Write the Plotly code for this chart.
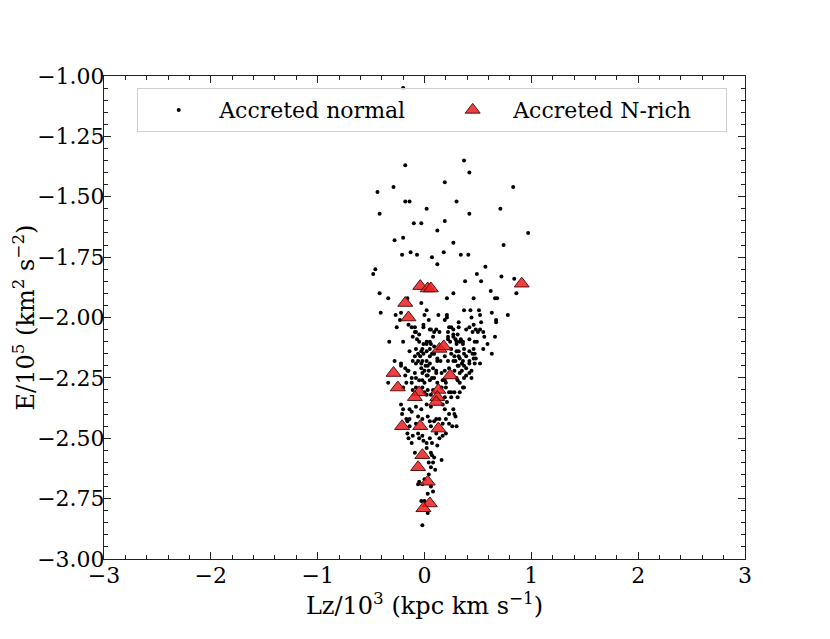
import plotly.graph_objects as go

# accreted normal stars: Lz/1e3 and E/1e5
normal_lz = [
    -0.20, -0.18, 0.37, 0.42, -0.29, -0.44, 0.19, 0.83, -0.18, -0.14, 0.30, 0.02,
    -0.42, 0.42, 0.71, 0.19, -0.10, -0.03, 0.12, 0.97, -0.28, -0.20, 0.27, 0.74,
    -0.13, -0.21, -0.07, 0.18, 0.34, 0.41, 0.07, 0.12, -0.46, -0.48, 0.57, 0.49,
    0.38, 0.53, 0.72, 0.84, 0.86, 0.62, 0.66, 0.68, 0.46, 0.27, 0.21, -0.03,
    -0.16, -0.42, -0.34, -0.41, -0.27, -0.22, -0.23, -0.26, 0.00, 0.02, 0.04, 0.13,
    0.21, 0.21, 0.19, 0.37, 0.43, 0.51, 0.52, 0.44, 0.63, 0.67, 0.67, 0.78,
    0.53, 0.42, 0.46, 0.48, 0.52, 0.45, 0.50, 0.55, 0.56, 0.66, 0.32, 0.32,
    0.23, 0.25, 0.22, 0.27, 0.29, -0.01, -0.09, -0.08, 0.06, 0.08, -0.05, 0.14,
    -0.15, -0.33, -0.20, -0.11, -0.05, -0.01, 0.05, 0.33, 0.30, 0.42, 0.49,
    0.02, 0.09, 0.24, 0.36, 0.59, -0.14, -0.08, -0.03, -0.01, -0.04, 0.05, 0.07,
    0.25, 0.30, 0.32, 0.33, 0.37, 0.42, 0.47, 0.48, 0.55, 0.63, -0.28, -0.22,
    -0.11, -0.08, -0.02, 0.01, 0.05, 0.12, 0.22, 0.29, 0.32, 0.35, 0.39, 0.42,
    0.47, 0.52, -0.18, -0.15, -0.09, -0.03, -0.02, 0.04, 0.08, 0.11, 0.19, 0.23,
    0.28, 0.33, 0.35, 0.42, -0.34, -0.18, -0.17, -0.12, -0.12, -0.05, 0.00, 0.02,
    0.07, 0.17, 0.20, 0.31, 0.37, -0.20, -0.11, -0.08, -0.02, 0.03, 0.02, 0.06,
    0.25, 0.31, 0.33, 0.36, 0.19, 0.21, -0.22, -0.20, -0.21, -0.14, -0.12, -0.08,
    -0.03, 0.02, 0.06, 0.17, 0.19, 0.23, 0.27, 0.28, -0.17, -0.14, -0.06, -0.02,
    0.03, 0.05, 0.11, 0.14, 0.17, 0.20, 0.23, 0.29, 0.30, 0.06, -0.16, -0.14,
    -0.08, 0.26, 0.09, -0.16, -0.11, -0.15, -0.06, -0.05, -0.02, -0.01, 0.02, 0.02,
    0.05, 0.07, 0.11, 0.14, 0.17, 0.20, -0.12, -0.09, 0.06, 0.07, 0.09, 0.12,
    0.16, 0.04, 0.08, 0.06, 0.10, 0.04, 0.00, -0.05, -0.06, -0.02, 0.06, 0.08,
    0.03, -0.03, 0.00, 0.03, -0.02,
]
normal_e = [
    -1.05, -1.37, -1.35, -1.40, -1.46, -1.48, -1.44, -1.46, -1.52, -1.52, -1.52, -1.55,
    -1.57, -1.57, -1.55, -1.60, -1.61, -1.61, -1.64, -1.65, -1.68, -1.67, -1.69, -1.70,
    -1.73, -1.74, -1.74, -1.73, -1.74, -1.74, -1.75, -1.78, -1.80, -1.82, -1.79, -1.82,
    -1.85, -1.85, -1.83, -1.84, -1.90, -1.89, -1.92, -1.92, -1.92, -1.90, -1.92, -1.94,
    -1.92, -1.90, -1.92, -1.98, -1.99, -1.98, -2.01, -2.04, -1.99, -1.97, -2.01, -1.99,
    -1.99, -2.00, -2.01, -1.97, -1.97, -1.97, -1.99, -2.00, -1.98, -2.01, -2.02, -1.99,
    -2.02, -2.04, -2.03, -2.05, -2.05, -2.06, -2.06, -2.06, -2.08, -2.08, -2.02, -2.04,
    -2.04, -2.04, -2.08, -2.07, -2.09, -2.03, -2.04, -2.06, -2.05, -2.08, -2.07, -2.06,
    -2.03, -2.10, -2.10, -2.08, -2.10, -2.11, -2.10, -2.10, -2.11, -2.09, -2.10,
    -2.11, -2.12, -2.10, -2.10, -2.11, -2.14, -2.13, -2.14, -2.15, -2.16, -2.13, -2.15,
    -2.15, -2.14, -2.16, -2.17, -2.15, -2.14, -2.15, -2.17, -2.13, -2.15, -2.18, -2.19,
    -2.18, -2.19, -2.18, -2.20, -2.19, -2.18, -2.18, -2.18, -2.20, -2.19, -2.21, -2.18,
    -2.19, -2.19, -2.21, -2.22, -2.23, -2.21, -2.23, -2.22, -2.21, -2.23, -2.22, -2.21,
    -2.22, -2.23, -2.22, -2.23, -2.27, -2.24, -2.27, -2.25, -2.27, -2.26, -2.27, -2.24,
    -2.25, -2.26, -2.27, -2.26, -2.25, -2.29, -2.30, -2.29, -2.29, -2.30, -2.32, -2.32,
    -2.31, -2.33, -2.31, -2.29, -2.33, -2.35, -2.36, -2.38, -2.40, -2.38, -2.39, -2.37,
    -2.38, -2.36, -2.37, -2.36, -2.38, -2.40, -2.38, -2.40, -2.42, -2.42, -2.41, -2.42,
    -2.41, -2.43, -2.42, -2.42, -2.44, -2.42, -2.44, -2.41, -2.45, -2.45, -2.43, -2.45,
    -2.44, -2.45, -2.43, -2.48, -2.49, -2.50, -2.48, -2.50, -2.49, -2.51, -2.52, -2.54,
    -2.50, -2.52, -2.48, -2.50, -2.49, -2.48, -2.52, -2.56, -2.56, -2.57, -2.58, -2.53,
    -2.59, -2.60, -2.60, -2.62, -2.63, -2.65, -2.67, -2.68, -2.69, -2.69, -2.70, -2.72,
    -2.73, -2.76, -2.76, -2.81, -2.86,
]

# extra normal stars in the crowded core around Lz ~ 0-0.4
core_lz = [
    -0.12, -0.09, -0.01, 0.05, 0.09, 0.11, 0.22, 0.27, 0.31, 0.39,
    -0.07, 0.02, 0.06, 0.22, 0.27, 0.30, 0.34, 0.36, 0.47, 0.46,
    -0.09, -0.06, -0.02, 0.02, 0.05, 0.09, 0.25, 0.28, 0.32, 0.37,
    0.39, 0.45, 0.46, -0.06, -0.03, 0.02, 0.03, 0.12, 0.15, 0.19,
    0.27, 0.31, 0.36, 0.37, 0.42, -0.22, -0.16, -0.08, 0.00, 0.03,
    0.11, 0.16, 0.39, 0.44, 0.44, -0.02, 0.05, 0.09, 0.12, 0.19,
    0.30, 0.33, 0.37, 0.00, 0.08, 0.16, 0.20, 0.23, 0.25, 0.28,
]
core_e = [
    -2.04, -2.06, -2.04, -2.05, -2.06, -2.05, -2.06, -2.05, -2.07, -2.05,
    -2.09, -2.10, -2.11, -2.09, -2.08, -2.10, -2.09, -2.11, -2.10, -2.13,
    -2.16, -2.15, -2.13, -2.14, -2.16, -2.15, -2.13, -2.16, -2.14, -2.13,
    -2.16, -2.15, -2.17, -2.18, -2.19, -2.18, -2.20, -2.17, -2.18, -2.16,
    -2.18, -2.20, -2.18, -2.20, -2.19, -2.20, -2.22, -2.25, -2.22, -2.24,
    -2.22, -2.23, -2.24, -2.22, -2.25, -2.26, -2.26, -2.25, -2.27, -2.26,
    -2.25, -2.27, -2.29, -2.31, -2.30, -2.29, -2.29, -2.31, -2.33, -2.31,
]

# accreted N-rich stars
nrich_lz = [
    -0.04, 0.03, 0.06, -0.18, -0.15, 0.91, 0.14, 0.18, -0.29, -0.25, 0.24, 0.13,
    -0.05, -0.09, 0.12, 0.11, -0.21, -0.04, 0.13, -0.02, -0.06, 0.03, 0.05, -0.01,
]
nrich_e = [
    -1.87, -1.88, -1.88, -1.94, -2.00, -1.86, -2.13, -2.12, -2.23, -2.29, -2.24, -2.30,
    -2.31, -2.33, -2.33, -2.35, -2.45, -2.45, -2.46, -2.57, -2.62, -2.68, -2.77, -2.79,
]

# tick positions and labels (true minus sign, as in the original)
x_ticks = [-3, -2, -1, 0, 1, 2, 3]
x_tick_labels = ["−3", "−2", "−1", "0", "1", "2", "3"]
y_ticks = [-3.0, -2.75, -2.5, -2.25, -2.0, -1.75, -1.5, -1.25, -1.0]
y_tick_labels = ["−3.00", "−2.75", "−2.50", "−2.25", "−2.00", "−1.75", "−1.50", "−1.25", "−1.00"]

assert len(normal_lz) == len(normal_e)
assert len(core_lz) == len(core_e)
assert len(nrich_lz) == len(nrich_e)

font_name = "DejaVu Serif"
tick_font = dict(family=font_name, size=22, color="black")

fig = go.Figure()
fig.add_trace(go.Scatter(
    x=normal_lz + core_lz, y=normal_e + core_e, mode="markers", name="Accreted normal",
    marker=dict(color="black", size=4),
))
fig.add_trace(go.Scatter(
    x=nrich_lz, y=nrich_e, mode="markers", name="Accreted N-rich",
    marker=dict(symbol="triangle-up", color="rgba(235,30,30,0.85)", size=13,
                line=dict(color="#5a1010", width=1)),
))

axis_common = dict(
    showline=True, linecolor="#222", linewidth=1, mirror="ticks",
    ticks="inside", ticklen=7, tickwidth=1, tickcolor="#222",
    showgrid=False, zeroline=False, automargin=False,
)

fig.update_xaxes(
    range=[-3, 3], tickmode="array", tickvals=x_ticks, ticktext=x_tick_labels,
    ticklabelstandoff=-3, tickfont=tick_font,
    minor=dict(ticks="inside", ticklen=4, tickmode="linear", tick0=0, dtick=0.2,
               tickcolor="#222", showgrid=False),
    title=dict(text="Lz/10<sup>3</sup> (kpc km s<sup>−1</sup>)",
               font=dict(family=font_name, size=24, color="black"), standoff=3),
    **axis_common,
)
fig.update_yaxes(
    range=[-3, -1], tickmode="array", tickvals=y_ticks, ticktext=y_tick_labels,
    ticklabelstandoff=-6, tickfont=tick_font,
    minor=dict(ticks="inside", ticklen=4, tickmode="linear", tick0=0, dtick=0.05,
               tickcolor="#222", showgrid=False),
    title=dict(text="E/10<sup>5</sup> (km<sup>2</sup> s<sup>−2</sup>)",
               font=dict(family=font_name, size=24, color="black"), standoff=7),
    **axis_common,
)

# page body adds an 8px margin, so the figure is 8px smaller than the window
fig.update_layout(
    width=822, height=631,
    margin=dict(l=96, r=85, t=68, b=80),
    plot_bgcolor="white", paper_bgcolor="white",
    font=dict(family=font_name, color="black"),
    legend=dict(
        orientation="h", x=0.512, xanchor="center", y=0.975, yanchor="top",
        bgcolor="rgba(255,255,255,0.8)", bordercolor="#d0d0d0", borderwidth=1,
        font=dict(family=font_name, size=22, color="black"),
        itemwidth=71, entrywidth=208,
    ),
)

fig.write_html("out.html")
